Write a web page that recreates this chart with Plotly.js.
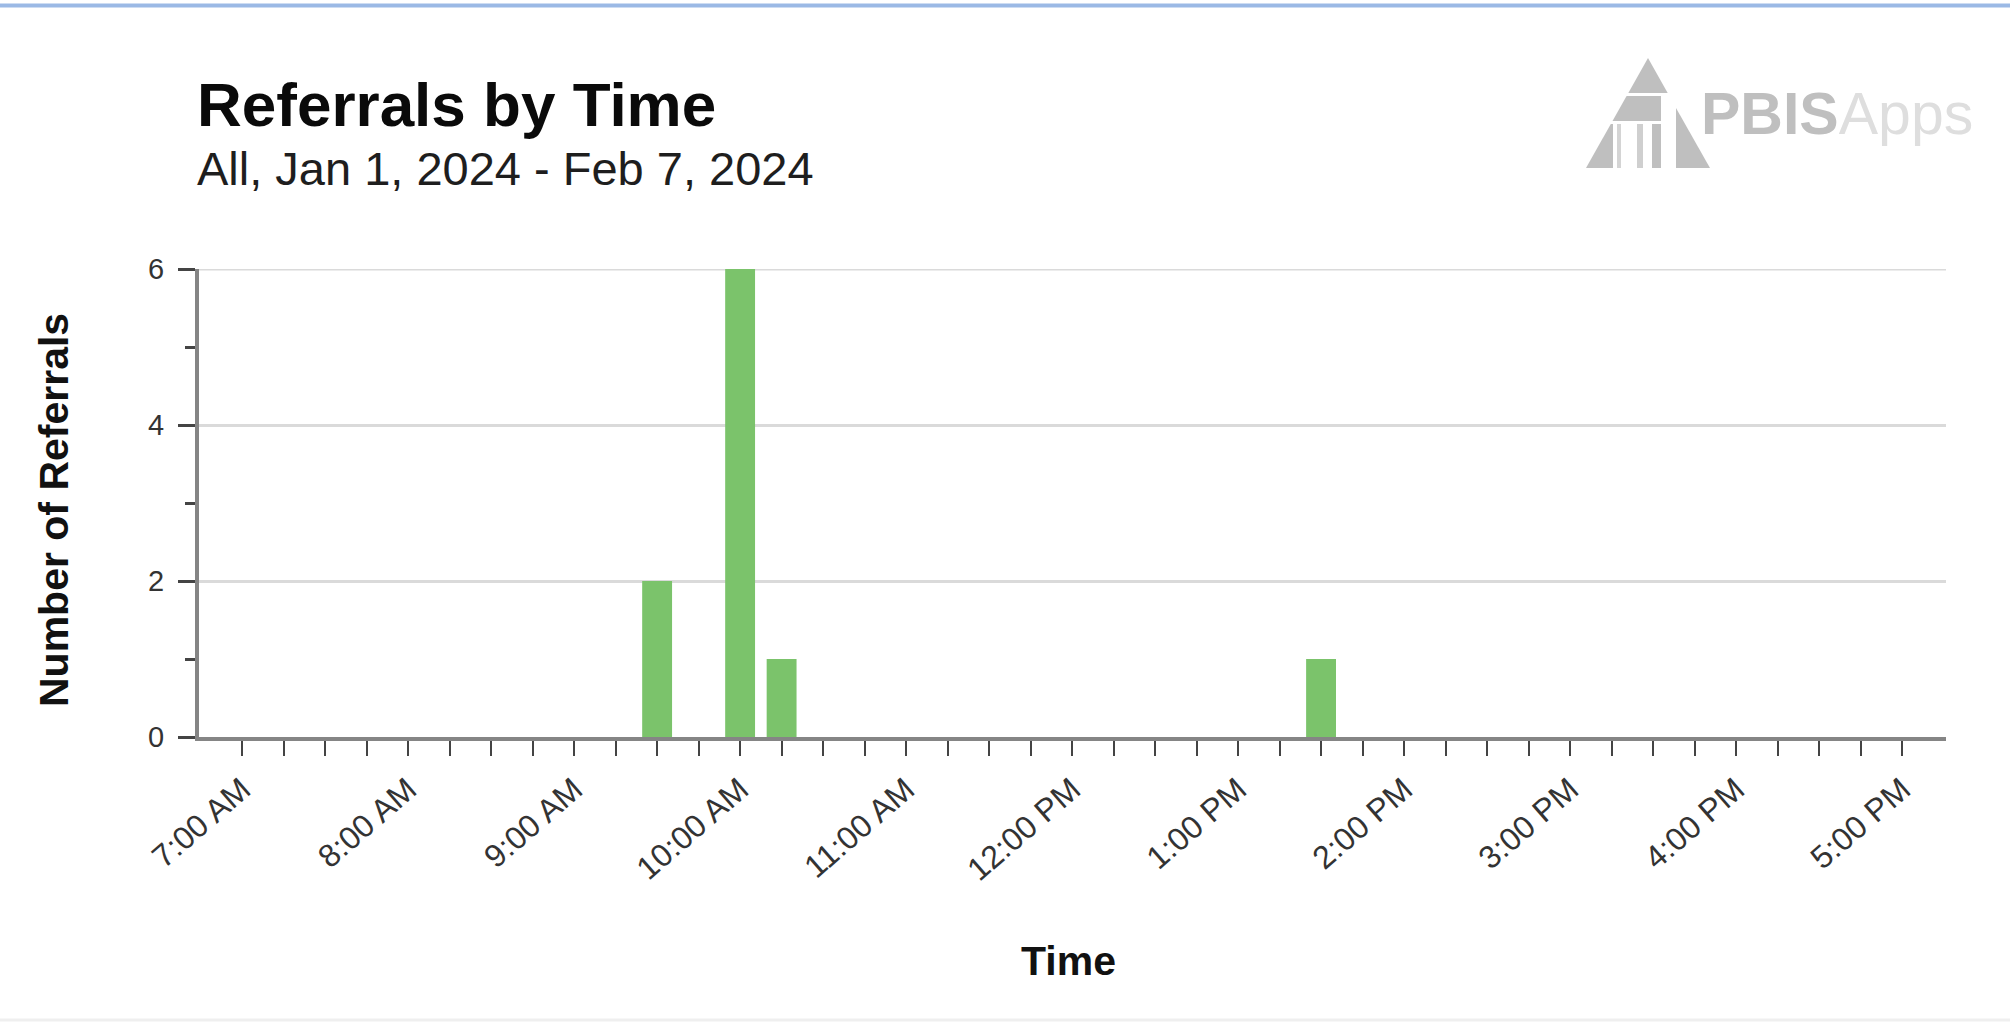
<!DOCTYPE html>
<html>
<head>
<meta charset="utf-8">
<script src="https://cdn.plot.ly/plotly-3.0.1.min.js"></script>
<style>
  html, body { margin: 0; padding: 0; background: #ffffff; }
  #chart { width: 2010px; height: 1023px; }
</style>
</head>
<body>
<div id="chart"></div>
<script>
// ---- Data ----
const timeBins = ["9:30 AM", "10:00 AM", "10:15 AM", "1:30 PM"];
const referrals = [2, 6, 1, 1];
const hourLabels = ["7:00 AM", "8:00 AM", "9:00 AM", "10:00 AM", "11:00 AM", "12:00 PM",
                    "1:00 PM", "2:00 PM", "3:00 PM", "4:00 PM", "5:00 PM"];
const yTickVals = [0, 2, 4, 6];
const yMinorVals = [1, 3, 5];
const chartTitle = "Referrals by Time";
const chartSubtitle = "All, Jan 1, 2024 - Feb 7, 2024";
const xTitle = "Time";
const yTitle = "Number of Referrals";

// ---- helpers ----
function toHours(label) {
  const m = label.match(/(\d+):(\d+)\s*(AM|PM)/);
  let h = parseInt(m[1], 10) % 12;
  if (m[3] === "PM") h += 12;
  return h + parseInt(m[2], 10) / 60;
}
const xVals = timeBins.map(toHours);

// quarter-hour ticks, labelled on the hour
const hourVals = hourLabels.map(toHours);
const tickVals = [], tickText = [];
for (let i = 0; i < hourVals.length; i++) {
  tickVals.push(hourVals[i]); tickText.push(hourLabels[i]);
  if (i < hourVals.length - 1) {
    for (let q = 1; q < 4; q++) { tickVals.push(hourVals[i] + q * 0.25); tickText.push(""); }
  }
}

// pixel -> paper conversion (plot area in pixels)
const PL = 199, PR = 1946, PT = 269, PB = 737;
const PW = PR - PL, PH = PB - PT;
const px = X => (X - PL) / PW;
const py = Y => (PB - Y) / PH;
function path(points) {
  return "M " + points.map(p => px(p[0]).toFixed(5) + "," + py(p[1]).toFixed(5)).join(" L ") + " Z";
}

const FONT = "Liberation Sans, Arial, Helvetica, sans-serif";
const logoGray = "#bfbfbf";

const shapes = [
  // top blue rule
  { type: "line", xref: "paper", yref: "paper", x0: px(0), x1: px(2010), y0: py(5.5), y1: py(5.5),
    line: { color: "#9bb9e5", width: 4 } },
  // faint bottom rule
  { type: "line", xref: "paper", yref: "paper", x0: px(0), x1: px(2010), y0: py(1020), y1: py(1020),
    line: { color: "#efefef", width: 3 } },
  // gridline at the top value (Plotly skips the gridline on the plot edge)
  { type: "line", xref: "paper", yref: "y", x0: 0, x1: 1, y0: yTickVals[yTickVals.length - 1],
    y1: yTickVals[yTickVals.length - 1], layer: "below", line: { color: "#dadada", width: 3 } },
  // logo pieces
  { type: "path", xref: "paper", yref: "paper", path: path([[1648, 58], [1628.3, 93], [1667.7, 93]]),
    fillcolor: logoGray, line: { width: 0 } },
  { type: "path", xref: "paper", yref: "paper", path: path([[1626.6, 96], [1661, 96], [1661, 121], [1612.5, 121]]),
    fillcolor: logoGray, line: { width: 0 } },
  { type: "path", xref: "paper", yref: "paper", path: path([[1610.8, 124], [1613, 124], [1613, 168], [1586, 168]]),
    fillcolor: logoGray, line: { width: 0 } },
  { type: "path", xref: "paper", yref: "paper", path: path([[1617, 124], [1621, 124], [1621, 168], [1617, 168]]),
    fillcolor: "#d4d4d4", line: { width: 0 } },
  { type: "path", xref: "paper", yref: "paper", path: path([[1637, 124], [1643, 124], [1643, 168], [1637, 168]]),
    fillcolor: "#cfcfcf", line: { width: 0 } },
  { type: "path", xref: "paper", yref: "paper", path: path([[1652, 124], [1661, 124], [1661, 168], [1652, 168]]),
    fillcolor: logoGray, line: { width: 0 } },
  { type: "path", xref: "paper", yref: "paper", path: path([[1676, 108], [1676, 168], [1710, 168]]),
    fillcolor: logoGray, line: { width: 0 } }
];

const annotations = [
  { text: "<b>" + chartTitle + "</b>", xref: "paper", yref: "paper", x: px(195), y: py(105),
    xanchor: "left", yanchor: "middle", showarrow: false,
    font: { family: FONT, size: 62, color: "#0a0a0a" } },
  { text: chartSubtitle, xref: "paper", yref: "paper", x: px(195), y: py(168),
    xanchor: "left", yanchor: "middle", showarrow: false,
    font: { family: FONT, size: 47, color: "#1e1e1e" } },
  { text: "<b>" + xTitle + "</b>", xref: "paper", yref: "paper", x: px(1068), y: py(961),
    xanchor: "center", yanchor: "middle", showarrow: false,
    font: { family: FONT, size: 41, color: "#111111" } },
  { text: "<b>" + yTitle + "</b>", xref: "paper", yref: "paper", x: px(54), y: py(510),
    xanchor: "center", yanchor: "middle", textangle: -90, showarrow: false,
    font: { family: FONT, size: 41, color: "#111111" } },
  { text: "<b>PBIS</b><span style=\"color:#dedede\">Apps</span>", xref: "paper", yref: "paper",
    x: px(1699), y: py(114), xanchor: "left", yanchor: "middle", showarrow: false,
    font: { family: FONT, size: 59, color: logoGray } }
];

const trace = {
  type: "bar",
  x: xVals,
  y: referrals,
  width: 0.18,
  marker: { color: "#7bc36b", line: { width: 0 } },
  hoverinfo: "x+y",
  showlegend: false
};

const layout = {
  width: 2010,
  height: 1023,
  margin: { l: PL, r: 2010 - PR, t: PT, b: 1023 - PB, pad: 0 },
  paper_bgcolor: "#ffffff",
  plot_bgcolor: "#ffffff",
  font: { family: FONT, color: "#333333" },
  showlegend: false,
  xaxis: {
    type: "linear",
    range: [6.74, 17.265],
    tickmode: "array",
    tickvals: tickVals,
    ticktext: tickText,
    tickangle: -41,
    ticks: "outside",
    ticklen: 15,
    tickwidth: 2,
    tickcolor: "#444444",
    ticklabelstandoff: 2,
    tickfont: { family: FONT, size: 32, color: "#333333" },
    showline: true,
    linecolor: "#858585",
    linewidth: 4,
    showgrid: false,
    zeroline: false,
    fixedrange: true
  },
  yaxis: {
    range: [0, 6],
    tickmode: "array",
    tickvals: yTickVals,
    ticktext: yTickVals.map(String),
    ticks: "outside",
    ticklen: 17,
    tickwidth: 3,
    tickcolor: "#444444",
    ticklabelstandoff: 8,
    tickfont: { family: FONT, size: 29, color: "#333333" },
    showline: true,
    linecolor: "#858585",
    linewidth: 4,
    showgrid: true,
    gridcolor: "#dadada",
    gridwidth: 3,
    zeroline: false,
    minor: { tickmode: "array", tickvals: yMinorVals, ticks: "outside", ticklen: 10, tickwidth: 3,
             tickcolor: "#444444", showgrid: false },
    fixedrange: true
  },
  shapes: shapes,
  annotations: annotations
};

Plotly.newPlot("chart", [trace], layout, { displayModeBar: false, staticPlot: true });
</script>
</body>
</html>
